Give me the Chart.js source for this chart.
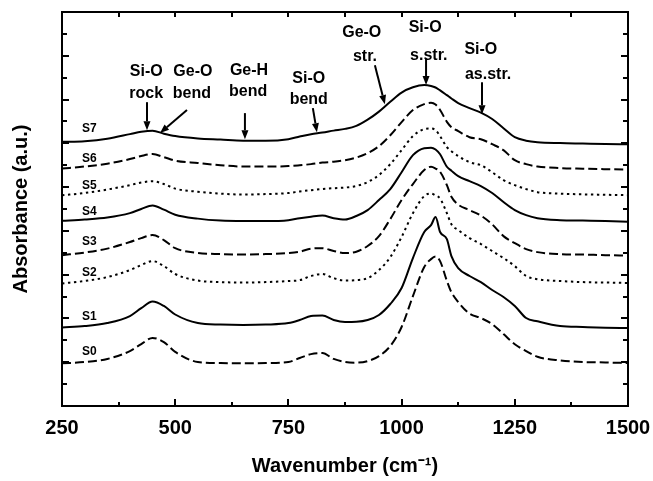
<!DOCTYPE html>
<html>
<head>
<meta charset="utf-8">
<script src="https://cdn.jsdelivr.net/npm/chart.js"></script>
<style>
body { margin: 0; background: #fff; }
</style>
</head>
<body>
<canvas id="stage" width="653" height="481"></canvas>
<script>
// IR spectra S0..S7 (stacked, arbitrary absorbance units)

var wavenumber = [250,300,350,400,425,450,475,500,550,600,650,700,750,775,800,825,850,875,900,925,950,975,1000,1025,1050,1065,1075,1085,1100,1110,1125,1150,1175,1200,1225,1250,1275,1300,1350,1400,1450,1500];

var s7 = [12.07,12.10,12.21,12.42,12.53,12.58,12.44,12.33, 12.22,12.17,12.12,12.12,12.19,12.31, 12.42,12.49,12.58,12.66,12.80,13.08, 13.45,13.90,14.32,14.56,14.66,14.62, 14.55,14.42,14.20,14.05,13.84,13.61, 13.40,13.11,12.69,12.28,12.12,12.05, 12.01,11.99,11.97,11.96];
var s6 = [10.85,10.94,11.07,11.28,11.42,11.51,11.37,11.21, 11.10,11.00,10.94,10.94,10.96,11.00, 11.05,11.12,11.16,11.23,11.35,11.55, 11.87,12.37,12.97,13.52,13.79,13.85, 13.77,13.52,12.98,12.74,12.56,12.28, 12.19,11.96,11.69,11.23,11.05,10.94, 10.87,10.84,10.82,10.80];
var s5 = [9.63,9.73,9.89,10.09,10.21,10.27,10.14,9.93, 9.79,9.70,9.66,9.68,9.73,9.80, 9.86,9.91,9.95,9.98,10.05,10.23, 10.55,11.05,11.69,12.33,12.65,12.68, 12.60,12.33,11.83,11.64,11.42,11.14, 11.00,10.68,10.32,10.09,9.91,9.77, 9.70,9.67,9.65,9.63];
var s4 = [8.46,8.52,8.61,8.81,9.00,9.16,8.97,8.74, 8.56,8.47,8.45,8.45,8.49,8.58, 8.65,8.70,8.58,8.52,8.68,8.95, 9.41,9.91,10.68,11.46,11.78,11.80, 11.72,11.50,10.93,10.75,10.50,10.27, 10.05,9.73,9.32,8.95,8.72,8.58, 8.49,8.47,8.45,8.42];
var s3 = [6.89,7.01,7.19,7.49,7.67,7.81,7.58,7.21, 6.99,6.94,6.92,6.94,6.99,7.05, 7.19,7.21,7.08,6.99,7.05,7.31, 7.76,8.54,9.41,10.14,10.78,10.93, 10.85,10.70,10.09,9.56,9.20,8.95, 8.70,8.30,7.76,7.44,7.17,7.03, 6.94,6.92,6.89,6.87];
var s2 = [5.60,5.71,5.89,6.21,6.44,6.62,6.39,6.03, 5.73,5.66,5.64,5.66,5.71,5.75, 5.94,6.03,5.84,5.73,5.75,5.84, 6.21,6.80,7.72,8.81,9.59,9.71, 9.62,9.48,8.81,8.30,8.04,7.67, 7.40,7.08,6.76,6.39,5.94,5.79, 5.71,5.66,5.64,5.62];
var s1 = [3.59,3.65,3.79,4.11,4.47,4.77,4.57,4.18, 3.79,3.72,3.70,3.72,3.79,3.93, 4.11,4.13,3.93,3.84,3.85,3.93, 4.16,4.66,5.39,6.76,7.95,8.26, 8.63,7.95,7.62,6.85,6.30,5.94, 5.66,5.30,4.98,4.57,4.02,3.87, 3.65,3.61,3.58,3.56];
var s0 = [1.95,2.01,2.15,2.51,2.83,3.11,2.92,2.47, 2.01,1.96,1.95,1.96,2.01,2.19, 2.37,2.42,2.15,2.01,1.98,2.05, 2.28,2.74,3.61,5.02,6.35,6.71, 6.83,6.62,5.72,5.20,4.75,4.22, 4.02,3.74,3.29,2.82,2.51,2.25, 2.08,2.01,1.99,1.96];

var seriesNames = ['S0','S1','S2','S3','S4','S5','S6','S7'];
var xTicks = [250, 500, 750, 1000, 1250, 1500];

// 線の種類 solid / dash / dot
var SOLID = [];
var DASH = [9, 4];
var DOT = [2.4, 3.6];
var styles = [DASH, SOLID, DOT, DASH, SOLID, DOT, DASH, SOLID];

// series name positions (left aligned)
var nameX = 294;
var nameY = [2.47, 4.06, 6.07, 7.49, 8.88, 10.05, 11.30, 12.65];

// band labels and arrows (data units)
var bandText = [
   {x: 436, y: 15.30, t: 'Si-O'}, {x: 436, y: 14.29, t: 'rock'},
   {x: 539, y: 15.30, t: 'Ge-O'}, {x: 537, y: 14.29, t: 'bend'},
   {x: 663, y: 15.34, t: 'Ge-H'}, {x: 661, y: 14.36, t: 'bend'},
   {x: 795, y: 14.98, t: 'Si-O'}, {x: 795, y: 14.02, t: 'bend'},
   {x: 912, y: 17.05, t: 'Ge-O'}, {x: 919, y: 15.98, t: 'str.'},
   {x: 1052, y: 17.28, t: 'Si-O'}, {x: 1060, y: 16.03, t: 's.str.'},
   {x: 1175, y: 16.30, t: 'Si-O'}, {x: 1191, y: 15.16, t: 'as.str.'}
];
var arrows = [
   [437.7, 13.88, 437.7, 12.60],
   [526, 13.52, 466.4, 12.47],
   [654, 13.38, 654, 12.19],
   [804, 13.61, 813, 12.51],
   [941, 15.57, 963, 13.79],
   [1054, 15.89, 1054, 14.66],
   [1177.6, 14.79, 1177.6, 13.33]
];

var FONT = "'Liberation Sans', Arial, sans-serif";

function makeSet(name, values, dash) {
   var pts = [];
   for (var i = 0; i < wavenumber.length; i++) {
      pts.push({x: wavenumber[i], y: values[i]});
   }
   return {
      label: name,
      data: pts,
      borderColor: '#000',
      borderWidth: 2,
      borderDash: dash,
      pointRadius: 0,
      fill: false,
      cubicInterpolationMode: 'monotone'
   };
}

var allSeries = [s0, s1, s2, s3, s4, s5, s6, s7];
var sets = [];
for (var k = 0; k < allSeries.length; k++) {
   sets.push(makeSet(seriesNames[k], allSeries[k], styles[k]));
}

// 枠・内向き目盛・注釈
var decor = {
   id: 'decor',
   afterDraw: function(chart) {
      var ctx = chart.ctx;
      var a = chart.chartArea;
      var xs = chart.scales.x;
      var ys = chart.scales.y;
      ctx.save();
      ctx.strokeStyle = '#000';
      ctx.fillStyle = '#000';
      ctx.lineWidth = 2;
      ctx.strokeRect(a.left, a.top, a.right - a.left, a.bottom - a.top);

      // x ticks every 125
      ctx.lineWidth = 2;
      for (var v = 375; v < 1500; v += 125) {
         var px = Math.round(xs.getPixelForValue(v));
         var major = (v % 250 == 0);
         ctx.beginPath();
         ctx.moveTo(px, a.bottom);
         ctx.lineTo(px, a.bottom - (major ? 7 : 4));
         ctx.moveTo(px, a.top);
         ctx.lineTo(px, a.top + 5);
         ctx.stroke();
      }
      // y ticks every 1
      for (var j = 1; j < 18; j++) {
         var py = Math.round(ys.getPixelForValue(j));
         var len = (j % 2 == 0) ? 7 : 5;
         ctx.beginPath();
         ctx.moveTo(a.left, py);
         ctx.lineTo(a.left + len, py);
         ctx.moveTo(a.right, py);
         ctx.lineTo(a.right - len, py);
         ctx.stroke();
      }

      // series names
      ctx.font = 'bold 12px ' + FONT;
      ctx.textAlign = 'left';
      ctx.textBaseline = 'middle';
      for (var n = 0; n < seriesNames.length; n++) {
         ctx.fillText(seriesNames[n], xs.getPixelForValue(nameX), ys.getPixelForValue(nameY[n]));
      }

      // band labels
      ctx.font = 'bold 16px ' + FONT;
      ctx.textAlign = 'center';
      bandText.forEach(function(b) {
         ctx.fillText(b.t, xs.getPixelForValue(b.x), ys.getPixelForValue(b.y));
      });

      // arrows
      ctx.lineWidth = 2;
      arrows.forEach(function(r) {
         var x1 = xs.getPixelForValue(r[0]), y1 = ys.getPixelForValue(r[1]);
         var x2 = xs.getPixelForValue(r[2]), y2 = ys.getPixelForValue(r[3]);
         var ang = Math.atan2(y2 - y1, x2 - x1);
         var hl = 9, hw = 3.5;
         var bx = x2 - hl * Math.cos(ang), by = y2 - hl * Math.sin(ang);
         ctx.beginPath();
         ctx.moveTo(x1, y1);
         ctx.lineTo(bx, by);
         ctx.stroke();
         ctx.beginPath();
         ctx.moveTo(x2, y2);
         ctx.lineTo(bx + hw * Math.sin(ang), by - hw * Math.cos(ang));
         ctx.lineTo(bx - hw * Math.sin(ang), by + hw * Math.cos(ang));
         ctx.closePath();
         ctx.fill();
      });
      ctx.restore();
   }
};

var canvas = document.getElementById('stage');
var chart = new Chart(canvas, {
   type: 'line',
   data: { datasets: sets },
   options: {
      responsive: false,
      animation: false,
      layout: { padding: { top: 12, right: 25, bottom: 0, left: 0 } },
      plugins: {
         legend: { display: false },
         tooltip: { enabled: false }
      },
      scales: {
         x: {
            type: 'linear',
            min: 250,
            max: 1500,
            afterBuildTicks: function(scale) {
               scale.ticks = xTicks.map(function(v) { return {value: v}; });
            },
            afterFit: function(scale) {
               scale.height = 75;
               scale.paddingLeft = 0;
               scale.paddingRight = 0;
            },
            grid: { display: false, drawTicks: false },
            border: { display: false },
            ticks: {
               color: '#000',
               padding: 10,
               maxRotation: 0,
               callback: function(v) { return String(v); },
               font: { family: FONT, size: 20, weight: 'bold' }
            },
            title: {
               display: true,
               text: 'Wavenumber (cm\u207B\u00B9)',
               color: '#000',
               padding: { top: 0, bottom: 3 },
               font: { family: FONT, size: 20, weight: 'bold' }
            }
         },
         y: {
            type: 'linear',
            min: 0,
            max: 18,
            afterFit: function(scale) { scale.width = 62; },
            grid: { display: false, drawTicks: false },
            border: { display: false },
            ticks: { display: false },
            title: {
               display: true,
               text: 'Absorbance (a.u.)',
               color: '#000',
               padding: { top: 9, bottom: 0 },
               font: { family: FONT, size: 20, weight: 'bold' }
            }
         }
      }
   },
   plugins: [decor]
});
</script>
</body>
</html>
